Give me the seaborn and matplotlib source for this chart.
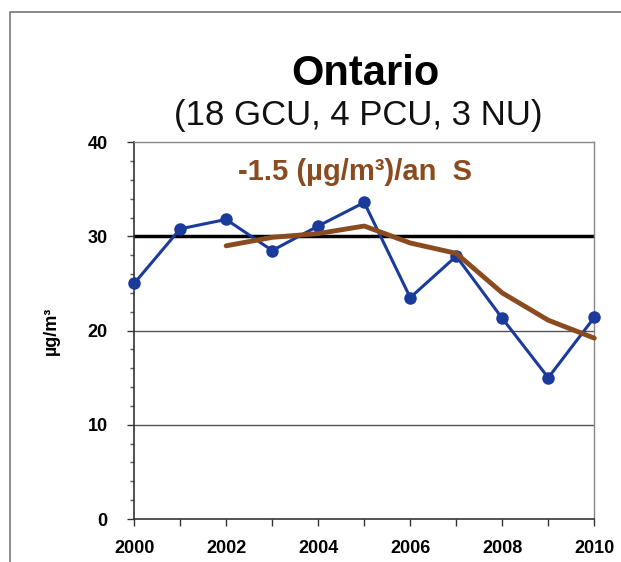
import pandas as pd
import seaborn as sns
import matplotlib.pyplot as plt
from matplotlib.patches import Rectangle

# Annual values, Ontario
years = [2000, 2001, 2002, 2003, 2004, 2005, 2006, 2007, 2008, 2009, 2010]
values = [25.0, 30.8, 31.8, 28.5, 31.1, 33.6, 23.5, 27.9, 21.3, 15.0, 21.4]

# Trend (brown curve)
trend_years = [2002, 2003, 2004, 2005, 2006, 2007, 2008, 2009, 2010]
trend_values = [29.0, 29.9, 30.3, 31.1, 29.3, 28.2, 24.0, 21.1, 19.2]

standard = 30

sns.set_style("white")
plt.rcParams['font.family'] = ['Liberation Sans', 'DejaVu Sans']

fig = plt.figure(figsize=(6.21, 5.62), dpi=100)
ax = fig.add_axes([0.216, 0.0765, 0.741, 0.6705])

df = pd.DataFrame({'year': years, 'value': values})
tdf = pd.DataFrame({'year': trend_years, 'value': trend_values})

# grid lines at 10 and 20, standard at 30
for g in [10, 20]:
    ax.axhline(g, color='#555555', lw=1.0, zorder=1)
ax.axhline(standard, color='black', lw=2.5, zorder=2)

sns.lineplot(data=df, x='year', y='value', ax=ax, color='#1a3a9c', lw=2.2,
             marker='o', markersize=9, markeredgewidth=0, zorder=3, clip_on=False)
sns.lineplot(data=tdf, x='year', y='value', ax=ax, color='#8a4b1f', lw=3.5,
             zorder=4, clip_on=False)

ax.set_xlim(2000, 2010)
ax.set_ylim(0, 40)
ax.set_xticks(years)
ax.set_xticklabels([str(y) if y % 2 == 0 else '' for y in years])
ax.set_yticks([0, 10, 20, 30, 40])
ax.set_yticks(range(0, 41, 2), minor=True)
ax.tick_params(axis='both', which='major', labelsize=13, length=5, width=1,
               direction='out', color='#333333', labelcolor='black')
ax.tick_params(axis='x', which='major', pad=10, bottom=True)
ax.tick_params(axis='y', which='major', pad=14, left=True)
ax.tick_params(axis='y', which='minor', length=3, width=1, color='#555555', left=True)
for lbl in ax.get_xticklabels() + ax.get_yticklabels():
    lbl.set_fontweight('bold')

for side in ['left', 'bottom']:
    ax.spines[side].set_color('#333333')
    ax.spines[side].set_linewidth(1.2)
for side in ['top', 'right']:
    ax.spines[side].set_color('#888888')
    ax.spines[side].set_linewidth(1.0)

ax.set_xlabel('')
ax.set_ylabel('µg/m³', fontsize=13, fontweight='bold', labelpad=20, color='black')

ax.text(0.48, 0.92, '-1.5 (µg/m³)/an  S', transform=ax.transAxes, ha='center',
        va='center', fontsize=21, fontweight='bold', color='#8a4b1f')

fig.text(0.588, 0.868, 'Ontario', ha='center', va='center', fontsize=30,
         fontweight='bold', color='black')
fig.text(0.577, 0.795, '(18 GCU, 4 PCU, 3 NU)', ha='center', va='center',
         fontsize=25, color='#111111')

# outer frame
fig.patches.append(Rectangle((0.016, -0.01), 1.0, 0.989, transform=fig.transFigure,
                             fill=False, edgecolor='#777777', lw=1.2))

fig.savefig('out.png', dpi=100)
